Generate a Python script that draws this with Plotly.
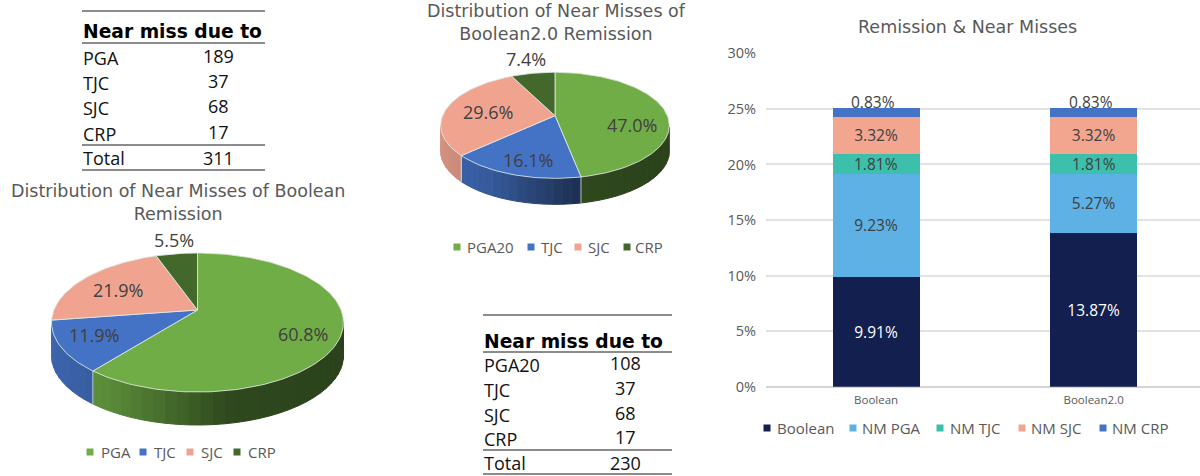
import numpy as np
import plotly.graph_objects as go

# ---- data ----
bar_categories = ["Boolean", "Boolean2.0"]
bar_boolean = [9.91, 13.87]
bar_nm_pga = [9.23, 5.27]
bar_nm_tjc = [1.81, 1.81]
bar_nm_sjc = [3.32, 3.32]
bar_nm_crp = [0.83, 0.83]

pie1_labels = ["PGA", "TJC", "SJC", "CRP"]
pie1_values = [189, 37, 68, 17]
pie2_labels = ["PGA20", "TJC", "SJC", "CRP"]
pie2_values = [108, 37, 68, 17]

table_header = "Near miss due to"
total_label = "Total"

# ---- style ----
FONT = "Open Sans"
TITLE_FONT = "DejaVu Sans"
GREY = "#595959"
DARK = "#404040"
PIE_COLORS = ["#70AD47", "#4472C4", "#F0A490", "#43682B"]
BAR_COLORS = ["#121F4F", "#5EB1E4", "#3CBFAB", "#F2A58F", "#4472C4"]
W, H = 1200, 476

fig = go.Figure()
annotations, shapes = [], []


def px(x):
    return x / W


def py(y):
    return 1 - y / H


def text(x, y, s, size=14, color=DARK, anchor="center", bold=False, family=None):
    annotations.append(dict(
        x=px(x - 2 if anchor == "left" else x), y=py(y), xref="paper", yref="paper",
        text=f"<b>{s}</b>" if bold else s,
        showarrow=False, xanchor=anchor, yanchor="middle", align="center",
        font=dict(family=family or (TITLE_FONT if bold else FONT), size=size, color=color)))


def hline(x0, x1, y):
    shapes.append(dict(type="line", xref="paper", yref="paper", x0=px(x0), x1=px(x1),
                       y0=py(y), y1=py(y), line=dict(color="#666666", width=1.5)))


def rgb(hexc, f=1.0):
    r, g, b = (int(hexc[i:i + 2], 16) for i in (1, 3, 5))
    return f"rgb({r * f:.0f},{g * f:.0f},{b * f:.0f})"


# ---- stacked bars ----
series = [("Boolean", bar_boolean), ("NM PGA", bar_nm_pga), ("NM TJC", bar_nm_tjc),
          ("NM SJC", bar_nm_sjc), ("NM CRP", bar_nm_crp)]
INSIDE = (0, 1, 3)
for i, (name, vals) in enumerate(series):
    fig.add_bar(
        x=bar_categories, y=vals, name=name, marker=dict(color=BAR_COLORS[i], line=dict(width=0)),
        text=[f"{v:.2f}%" for v in vals] if i in INSIDE else None,
        textposition="inside" if i in INSIDE else "none", insidetextanchor="middle", textangle=0,
        textfont=dict(family=FONT, size=15.5, color="#FFFFFF" if i == 0 else DARK),
        showlegend=False, hoverinfo="x+y+name")

base = np.sum([v for _, v in series[:2]], axis=0)
totals = np.sum([v for _, v in series], axis=0)
for c, b0, v, t, vc in zip(bar_categories, base, bar_nm_tjc, totals, bar_nm_crp):
    annotations.append(dict(x=c, y=b0 + v / 2, xref="x", yref="y", text=f"{v:.2f}%", showarrow=False,
                            yanchor="middle", font=dict(family=FONT, size=15.5, color=DARK)))
    annotations.append(dict(x=c, y=t, xref="x", yref="y", text=f"{vc:.2f}%", showarrow=False,
                            xshift=-3, yshift=6, yanchor="middle",
                            font=dict(family=FONT, size=15.5, color=DARK)))


# ---- perspective pies, drawn from the values ----
def project(t, cx, cy, a, b, p):
    u, v = np.sin(t), np.cos(t)
    d = 1 + p * v
    return cx + a * u / d, cy - b * v / d


def draw_pie(values, cx, cy, a, b, p, depth):
    total = sum(values)
    edges = np.cumsum([0] + list(values)) / total * 2 * np.pi
    half_w = a / np.sqrt(1 - p * p)
    # walls
    for i in range(len(values)):
        n = max(2, int((edges[i + 1] - edges[i]) / np.radians(4)) + 1)
        ts = np.linspace(edges[i], edges[i + 1], n + 1)
        for t0, t1 in zip(ts[:-1], ts[1:]):
            tm = (t0 + t1) / 2
            if np.cos(tm) > -p:
                continue
            x0, y0 = project(t0, cx, cy, a, b, p)
            x1, y1 = project(t1, cx, cy, a, b, p)
            f = np.interp((x0 + x1) / 2 - cx, [-half_w, -0.6 * half_w, 0.2 * half_w, half_w],
                          [0.88, 0.8, 0.42, 0.38])
            c = rgb(PIE_COLORS[i], f)
            fig.add_scatter(x=[x0, x1, x1, x0, x0], y=[y0, y1, y1 + depth, y0 + depth, y0],
                            xaxis="x2", yaxis="y2", mode="lines", fill="toself", fillcolor=c,
                            line=dict(color=c, width=1), showlegend=False, hoverinfo="skip")
    for i in range(len(values)):
        if np.cos(edges[i]) < -p:
            xe, ye = project(edges[i], cx, cy, a, b, p)
            fig.add_scatter(x=[xe, xe], y=[ye, ye + depth], xaxis="x2", yaxis="y2", mode="lines",
                            line=dict(color="rgba(225,232,225,0.8)", width=1),
                            showlegend=False, hoverinfo="skip")
    # top faces
    for i in range(len(values)):
        n = max(8, int((edges[i + 1] - edges[i]) / np.radians(1.5)))
        ts = np.linspace(edges[i], edges[i + 1], n + 1)
        xs, ys = project(ts, cx, cy, a, b, p)
        fig.add_scatter(x=[cx, *xs, cx], y=[cy, *ys, cy], xaxis="x2", yaxis="y2", mode="lines",
                        fill="toself", fillcolor=PIE_COLORS[i],
                        line=dict(color="rgba(225,232,225,0.85)", width=1),
                        showlegend=False, hoverinfo="skip", name=str(values[i]))


def pie_labels(values, positions):
    total = sum(values)
    for v, (x, y) in zip(values, positions):
        text(x, y, f"{v / total * 100:.1f}%", size=18)


def legend_row(names, colors, marker_x, text_x, y, size=15):
    fig.add_scatter(x=marker_x, y=[y] * len(names), xaxis="x2", yaxis="y2", mode="markers",
                    marker=dict(symbol="square", size=7, color=colors, line=dict(width=0)),
                    showlegend=False, hoverinfo="skip")
    for n, x in zip(names, text_x):
        text(x + 2, y, n, size=size, color=GREY, anchor="left")


def table(rows, values, x0, x1, xnum, ytop, yhead, yline, yrows, ysum, ytotal, ybot):
    hline(x0, x1, ytop)
    text(x0 + 1, yhead, table_header, size=18.7, color="#000000", anchor="left", bold=True)
    hline(x0, x1, yline)
    for r, v, y in zip(rows, values, yrows):
        text(x0 + 1, y + 1, r, size=18, color="#111111", anchor="left")
        text(xnum, y - 1, str(v), size=18, color="#111111")
    hline(x0, x1, ysum)
    text(x0 + 1, ytotal, total_label, size=18, color="#111111", anchor="left")
    text(xnum, ytotal, str(sum(values)), size=18, color="#111111")
    hline(x0, x1, ybot)


draw_pie(pie1_values, 197.5, 310, 143.6, 67.25, 0.18, 33)
draw_pie(pie2_values, 555, 115.7, 112.4, 51.3, 0.181, 26)
pie_labels(pie1_values, [(303, 334), (94, 335), (118, 290), (174, 240)])
pie_labels(pie2_values, [(632, 125), (528, 160), (488, 112), (526, 59)])

legend_row(pie1_labels, PIE_COLORS, [90, 143, 190, 237], [99, 152, 199, 246], 452)
legend_row(pie2_labels, PIE_COLORS, [457, 531, 578, 627], [465, 539, 586, 633], 247)
legend_row([s[0] for s in series], BAR_COLORS, [767, 853, 940, 1022, 1103],
           [775, 860, 948, 1029, 1110], 428)

TITLE = 17.5
text(178, 202, "Distribution of Near Misses of Boolean<br>Remission", size=TITLE, color=GREY, family=TITLE_FONT)
text(556, 22.5, "Distribution of Near Misses of<br>Boolean2.0 Remission", size=TITLE, color=GREY, family=TITLE_FONT)
text(967, 27, "Remission &amp; Near Misses", size=TITLE, color=GREY, family=TITLE_FONT)

table(pie1_labels, pie1_values, 82, 265, 218, 11, 32, 43, [57, 82, 107, 133], 145, 158, 170)
table(pie2_labels, pie2_values, 483, 672, 626, 315, 341, 352, [364, 389, 414, 438], 450, 463, 474)

fig.update_layout(
    width=W, height=H, margin=dict(l=0, r=0, t=0, b=0), autosize=False,
    paper_bgcolor="white", plot_bgcolor="rgba(0,0,0,0)",
    barmode="stack", bargap=0.6, showlegend=False,
    font=dict(family=FONT),
    annotations=annotations, shapes=shapes,
    xaxis=dict(domain=[766 / W, 1], range=[-0.506, 1.489], type="category", showgrid=False,
               showline=False, ticks="", tickfont=dict(family=FONT, size=11.5, color=GREY),
               zeroline=False, automargin=False, ticklabelstandoff=5),
    yaxis=dict(domain=[py(386.7), py(53.3)], range=[0, 30], dtick=5, ticksuffix="%",
               gridcolor="#E2E2E2", gridwidth=1.5, zeroline=True, zerolinecolor="#D4D4D4",
               zerolinewidth=1.5, showline=False, ticks="", anchor="x", ticklabelstandoff=9,
               tickfont=dict(family=FONT, size=14.5, color=GREY), automargin=False),
    xaxis2=dict(domain=[0, 1], range=[0, W], visible=False, anchor="y2", fixedrange=True),
    yaxis2=dict(domain=[0, 1], range=[H, 0], visible=False, anchor="x2", fixedrange=True),
)
fig.write_html("out.html", config={"displayModeBar": False},
               post_script="document.body.style.margin='0';document.documentElement.style.overflow='hidden';")
